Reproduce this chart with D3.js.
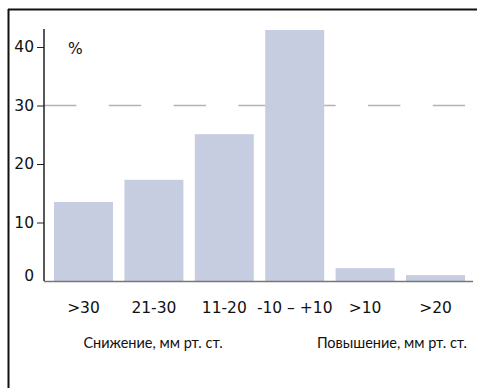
<!DOCTYPE html>
<html>
<head>
<meta charset="utf-8">
<script src="https://cdn.jsdelivr.net/npm/d3@7"></script>
<style>
  body { margin: 0; background: #fff; }
  svg { display: block; font-family: 'DejaVu Sans', sans-serif; }
</style>
</head>
<body>
<svg id="viz" width="477" height="388"></svg>
<script>
const categories = ['>30', '21-30', '11-20', '-10 – +10', '>10', '>20'];
const values = [13.5, 17.3, 25.1, 42.9, 2.2, 1.0];
const yTicks = [0, 10, 20, 30, 40];
const refValue = 30;

const svg = d3.select('#viz');

// frame (top and left only)
svg.append('line').attr('x1', 8).attr('x2', 477).attr('y1', 9.5).attr('y2', 9.5)
  .attr('stroke', '#111').attr('stroke-width', 2);
svg.append('line').attr('x1', 8.5).attr('x2', 8.5).attr('y1', 9).attr('y2', 388)
  .attr('stroke', '#111').attr('stroke-width', 2);

// SCALES
const x = d3.scaleBand().domain(categories).range([54, 465])
  .paddingInner(0.162).paddingOuter(0);
const y = d3.scaleLinear().domain([0, 40]).range([281, 47]);

// reference dashed line (behind bars)
svg.append('line')
  .attr('x1', 44).attr('x2', 465)
  .attr('y1', y(refValue)).attr('y2', y(refValue))
  .attr('stroke', '#b3b3b3').attr('stroke-width', 1.5)
  .attr('stroke-dasharray', '32.4 32.4');

// DATA
svg.append('g').selectAll('rect')
  .data(values)
  .enter()
  .append('rect')
  .attr('x', (d, i) => x(categories[i]))
  .attr('y', (d) => y(d))
  .attr('width', x.bandwidth())
  .attr('height', (d) => y(0) - y(d))
  .style('fill', '#c6cde0');

// x baseline
svg.append('line').attr('x1', 44).attr('x2', 473)
  .attr('y1', y(0) + 0.5).attr('y2', y(0) + 0.5)
  .attr('stroke', '#777').attr('stroke-width', 1.5);

// y axis
const yAxis = svg.append('g')
  .attr('transform', 'translate(44,0)')
  .call(d3.axisLeft(y).tickValues(yTicks).tickSize(7).tickPadding(3));
yAxis.select('.domain').remove();
yAxis.append('line').attr('x1', 0).attr('x2', 0).attr('y1', 29).attr('y2', 281)
  .attr('stroke', '#222').attr('stroke-width', 1.5);
yAxis.selectAll('.tick line').attr('stroke', '#222')
  .attr('display', (d) => (d === 0 ? 'none' : null));
yAxis.selectAll('.tick text')
  .style('font-size', '15.5px').style('fill', '#111')
  .style('font-family', "'DejaVu Sans', sans-serif")
  .attr('dy', (d) => (d === 0 ? '-0.05em' : '0.32em'));

// x labels
svg.append('g').selectAll('text')
  .data(categories)
  .enter()
  .append('text')
  .attr('x', (d) => x(d) + x.bandwidth() / 2)
  .attr('y', 313)
  .attr('text-anchor', 'middle')
  .style('font-size', '15.5px')
  .style('fill', '#111')
  .text((d) => d);

// LABELS
svg.append('text').attr('x', 68).attr('y', 54)
  .style('font-size', '15.5px').style('fill', '#111').text('%');

svg.append('text').attr('x', 153).attr('y', 348)
  .attr('text-anchor', 'middle')
  .style('font-family', "'Lato', 'Noto Sans', sans-serif")
  .style('font-size', '14.5px').style('fill', '#111')
  .text('Снижение, мм рт. ст.');

svg.append('text').attr('x', 467).attr('y', 348)
  .attr('text-anchor', 'end')
  .style('font-family', "'Lato', 'Noto Sans', sans-serif")
  .style('font-size', '14.5px').style('fill', '#111')
  .text('Повышение, мм рт. ст.');
</script>
</body>
</html>
